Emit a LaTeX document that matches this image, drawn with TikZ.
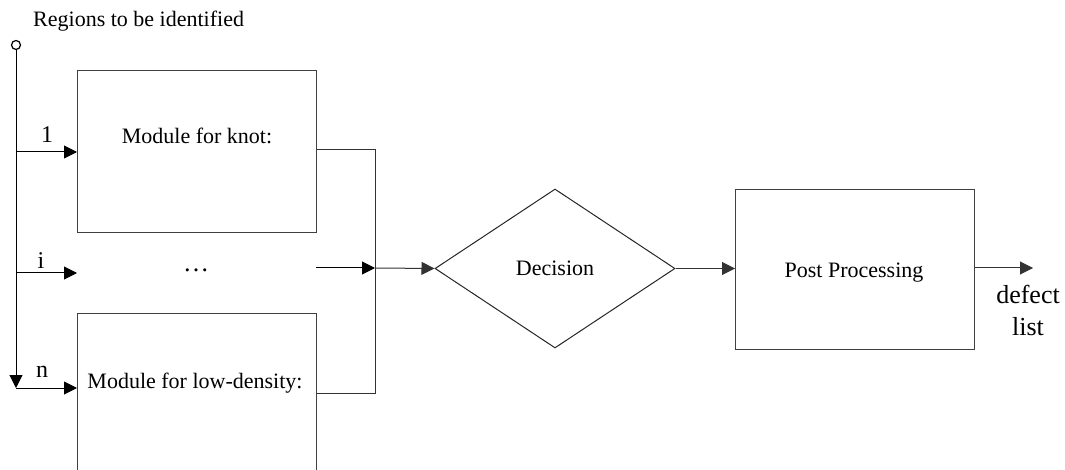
\documentclass[tikz,border=0pt]{standalone}
\usepackage{fontspec}
\setmainfont{Liberation Serif}
\usetikzlibrary{shapes.geometric,arrows.meta}
\begin{document}
\begin{tikzpicture}[x=1pt,y=-1pt,
  box/.style={draw=black!75,line width=1pt,minimum width=239pt,minimum height=162pt,inner sep=0pt,anchor=north west},
  lab/.style={font=\fontsize{22}{26}\selectfont,inner sep=0pt,anchor=base},
  biglab/.style={lab,font=\fontsize{26}{30}\selectfont},
  numlab/.style={lab,font=\fontsize{24}{28}\selectfont},
  conn/.style={draw=black!80,line width=1pt},
  arr/.style={conn,-{Triangle[length=13pt,width=13pt]}}]
\clip (0,0) rectangle (1065,470);
% title and source
\node[lab,anchor=base west] (title) at (33,27) {Regions to be identified};
\node[draw=black,line width=1.2pt,circle,minimum size=9pt,inner sep=0pt] (src) at (16,45) {};
\coordinate (bot) at (16,388);
\draw[arr,draw=black] (src.south) -- (bot);
% boxes
\node[box] (box1) at (77,70) {};
\node[box] (box2) at (77,313) {};
\node[lab] (t1) at (197,144) {Module for knot:};
\node[lab] (t2) at (195,388) {Module for low-density:};
\node[lab,font=\fontsize{26}{30}\selectfont] (dots) at (196,272) {\ldots};
% branch labels
\node[numlab] (l1) at (47,143) {1};
\node[numlab] (li) at (41,269) {i};
\node[numlab] (ln) at (42,377) {n};
% branches
\coordinate (s1) at (16,152);
\coordinate (si) at (16,273);
\coordinate (ei) at (77,273);
\draw[arr,draw=black] (s1) -- (s1 -| box1.west);
\draw[arr,draw=black] (si) -- (ei);
\draw[arr,draw=black] (bot) -- (bot -| box2.west);
% collector
\coordinate (J) at (375,268);
\coordinate (c1) at (375,150);
\coordinate (c2) at (375,393);
\coordinate (mi) at (316,268);
\draw[conn] (c1 -| box1.east) -- (c1) -- (c2) -- (c2 -| box2.east);
\draw[arr,draw=black] (mi) -- (J);
% decision
\node[draw=black!85,line width=1pt,diamond,minimum width=240pt,minimum height=159pt,inner sep=0pt,aspect=1.5] (dec) at (555,268.5) {};
\node[lab] (dect) at (555,276) {Decision};
\draw[arr] (J) -- (dec.west);
% post processing
\node[box,minimum height=160pt] (pp) at (735,189) {};
\node[lab] (ppt) at (854,277) {Post Processing};
\draw[arr] (dec.east) -- (dec.east -| pp.west);
\coordinate (out) at (1033,268);
\draw[arr] (pp.east |- out) -- (out);
\node[biglab] (o1) at (1028,303) {defect};
\node[biglab] (o2) at (1028,335) {list};
\end{tikzpicture}
\end{document}
